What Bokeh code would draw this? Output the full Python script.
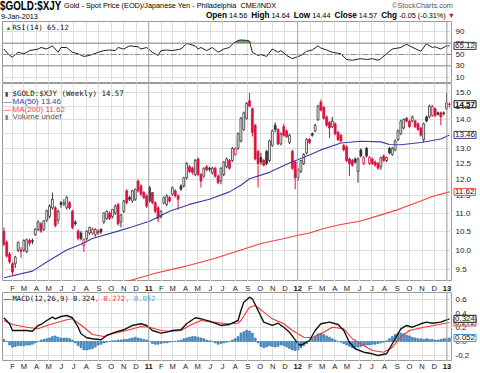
import pandas as pd
from bokeh.plotting import figure
from bokeh.layouts import column, row
from bokeh.models import Range1d, FixedTicker, Span, Label, Div, ColumnDataSource
from bokeh.core.properties import value
from bokeh.embed import file_html
from bokeh.resources import INLINE

# ---------------- data ----------------
first_week = pd.Timestamp("2010-01-11")

opens = [10.50, 10.20, 9.90, 9.65, 9.65, 10.00, 10.00, 10.00, 9.96, 10.25,
         10.25, 10.40, 10.55, 10.70, 10.55, 10.80, 10.90, 11.15, 11.15, 10.80,
         11.30, 11.25, 11.15, 11.30, 11.05, 10.75, 10.50, 10.45, 10.12, 10.30,
         10.45, 10.45, 10.40, 10.50, 10.55, 10.75, 10.85, 11.00, 10.90, 11.00,
         11.25, 10.75, 11.05, 11.65, 11.45, 11.35, 11.40, 11.95, 11.80, 11.60,
         11.50, 11.75, 11.60, 11.30, 11.15, 10.90, 11.30, 11.25, 11.45, 11.55,
         11.65, 11.50, 11.80, 11.80, 12.05, 12.40, 12.35, 12.15, 12.65, 12.15,
         12.10, 12.40, 12.35, 12.20, 12.35, 12.10, 11.95, 12.15, 12.40, 12.60,
         12.60, 12.80, 13.00, 13.25, 13.65, 14.05, 14.70, 14.40, 13.80, 12.90,
         12.70, 12.60, 12.90, 12.60, 13.10, 13.80, 13.65, 13.15, 13.75, 13.60,
         13.20, 12.90, 12.55, 12.05, 12.25, 12.50, 12.85, 13.30, 13.50, 13.60,
         14.00, 14.65, 14.45, 14.10, 13.90, 13.75, 13.85, 13.55, 13.45, 13.10,
         13.05, 12.65, 12.60, 12.65, 12.25, 12.95, 12.50, 13.00, 12.50, 12.65,
         12.55, 12.50, 12.40, 12.75, 12.60, 13.00, 12.80, 12.95, 13.30, 13.50,
         13.70, 14.05, 13.95, 13.95, 13.95, 13.85, 13.70, 13.30, 14.10, 14.10,
         14.15, 14.40, 14.25, 14.25, 14.25, 14.40, 14.56]
highs = [10.60, 10.25, 9.95, 9.70, 9.85, 10.22, 10.08, 10.28, 10.30, 10.30,
         10.30, 10.58, 10.80, 10.75, 10.80, 11.10, 11.25, 11.60, 11.20, 11.10,
         11.35, 11.40, 11.50, 11.35, 11.10, 10.80, 10.55, 10.50, 10.30, 10.52,
         10.62, 10.60, 10.58, 10.55, 10.58, 11.02, 11.08, 11.05, 11.12, 11.25,
         11.30, 10.98, 11.38, 11.70, 11.50, 11.68, 11.72, 12.00, 11.85, 11.65,
         11.55, 11.80, 11.62, 11.35, 11.20, 11.08, 11.48, 11.55, 11.50, 11.78,
         11.70, 11.55, 11.85, 12.08, 12.55, 12.45, 12.40, 12.65, 12.70, 12.20,
         12.38, 12.45, 12.40, 12.40, 12.40, 12.15, 12.38, 12.58, 12.70, 12.65,
         13.05, 13.05, 13.55, 14.10, 14.30, 14.65, 15.00, 14.45, 13.85, 12.95,
         12.85, 12.65, 12.95, 13.30, 13.65, 13.90, 13.70, 13.55, 13.85, 13.65,
         13.50, 12.95, 12.60, 12.35, 12.62, 12.85, 13.35, 13.35, 13.55, 13.85,
         14.55, 14.75, 14.50, 14.15, 13.95, 14.10, 13.90, 13.60, 13.50, 13.15,
         13.10, 12.70, 12.65, 12.70, 12.70, 13.00, 12.75, 13.05, 12.75, 12.70,
         12.60, 12.55, 12.72, 12.80, 12.72, 13.05, 13.05, 13.30, 13.65, 14.00,
         14.05, 14.10, 14.00, 14.15, 14.00, 13.90, 13.75, 13.90, 14.15, 14.55,
         14.55, 14.45, 14.30, 14.30, 14.30, 15.00, 14.64]
lows = [10.10, 9.80, 9.65, 9.37, 9.55, 9.95, 9.80, 9.95, 9.92, 10.10,
        10.15, 10.38, 10.50, 10.45, 10.50, 10.75, 10.85, 11.10, 10.60, 10.70,
        11.15, 11.20, 11.10, 11.10, 10.55, 10.65, 10.25, 10.25, 9.95, 10.25,
        10.40, 10.40, 10.35, 10.40, 10.42, 10.70, 10.80, 10.80, 10.85, 10.95,
        10.65, 10.60, 11.00, 11.25, 11.35, 11.30, 11.35, 11.60, 11.50, 11.40,
        11.15, 11.30, 11.25, 11.00, 10.75, 10.85, 11.25, 11.20, 11.30, 11.50,
        11.45, 11.10, 11.65, 11.75, 12.00, 12.20, 12.15, 12.10, 12.10, 11.75,
        12.05, 12.25, 12.25, 12.15, 12.05, 11.85, 11.85, 12.10, 12.35, 12.30,
        12.55, 12.75, 12.95, 13.20, 13.60, 14.00, 14.45, 13.40, 12.60, 11.75,
        12.45, 12.40, 12.45, 12.55, 13.05, 13.55, 13.10, 13.10, 13.40, 13.35,
        13.15, 12.30, 11.70, 11.95, 12.20, 12.45, 12.80, 13.15, 13.40, 13.55,
        13.95, 14.30, 14.00, 13.75, 13.35, 13.70, 13.45, 13.25, 13.20, 12.90,
        12.55, 12.10, 12.40, 12.50, 11.90, 12.70, 12.45, 12.70, 12.45, 12.45,
        12.40, 12.30, 12.30, 12.55, 12.55, 12.80, 12.75, 12.90, 13.25, 13.45,
        13.65, 13.90, 13.70, 13.90, 13.70, 13.60, 13.40, 13.20, 13.90, 14.05,
        14.10, 14.10, 14.15, 13.80, 14.15, 14.35, 14.44]
closes = [10.15, 9.85, 9.70, 9.45, 9.82, 10.20, 9.97, 10.25, 10.27, 10.18,
          10.22, 10.55, 10.75, 10.50, 10.78, 11.07, 11.20, 11.40, 10.65, 11.05,
          11.25, 11.30, 11.45, 11.15, 10.60, 10.70, 10.30, 10.30, 10.28, 10.50,
          10.60, 10.55, 10.55, 10.45, 10.48, 11.00, 11.05, 10.85, 11.10, 11.20,
          10.70, 10.95, 11.35, 11.30, 11.40, 11.65, 11.70, 11.65, 11.55, 11.45,
          11.20, 11.35, 11.30, 11.05, 10.85, 11.05, 11.45, 11.50, 11.35, 11.75,
          11.50, 11.40, 11.70, 12.05, 12.50, 12.25, 12.22, 12.60, 12.15, 11.95,
          12.35, 12.30, 12.32, 12.35, 12.10, 11.90, 12.35, 12.55, 12.65, 12.35,
          13.00, 12.98, 13.50, 14.05, 14.25, 14.60, 14.50, 13.55, 12.65, 12.50,
          12.55, 12.45, 12.50, 13.25, 13.60, 13.65, 13.15, 13.50, 13.45, 13.40,
          13.45, 12.35, 12.05, 12.30, 12.60, 12.80, 13.30, 13.20, 13.45, 13.80,
          14.50, 14.35, 14.05, 13.80, 13.70, 13.95, 13.50, 13.30, 13.25, 12.95,
          12.60, 12.50, 12.45, 12.55, 12.65, 12.75, 12.70, 12.75, 12.70, 12.50,
          12.45, 12.35, 12.70, 12.60, 12.70, 12.85, 13.00, 13.25, 13.60, 13.95,
          14.00, 13.95, 13.75, 14.10, 13.75, 13.65, 13.45, 13.85, 13.95, 14.50,
          14.48, 14.15, 14.20, 14.10, 14.22, 14.62, 14.57]

ma50_weeks = [0, 10, 16, 22, 27, 31, 40, 45, 51, 58, 65, 72, 79, 83, 86, 93,
              100, 107, 111, 118, 125, 132, 135, 139, 146, 153, 156]
ma50_vals = [9.31, 9.47, 9.74, 10.00, 10.15, 10.30, 10.50, 10.62, 10.77, 11.05,
             11.25, 11.40, 11.62, 11.82, 12.02, 12.22, 12.52, 12.78, 12.95,
             13.18, 13.24, 13.22, 13.13, 13.12, 13.20, 13.32, 13.46]
ma200_weeks = [40, 42, 53, 63, 74, 83, 90, 97, 103, 107, 112, 118, 125, 132,
               138, 146, 150, 156]
ma200_vals = [9.10, 9.20, 9.42, 9.58, 9.79, 10.00, 10.17, 10.28, 10.39, 10.45,
              10.57, 10.68, 10.78, 10.95, 11.10, 11.35, 11.48, 11.62]

rsi_weeks = [0, 2, 3, 5, 7, 9, 12, 13, 15, 17, 19, 20, 22, 24, 26, 28, 30, 33,
             35, 37, 39, 40, 42, 44, 47, 48, 50, 52, 54, 55, 57, 59, 62, 64, 65,
             67, 68, 69, 71, 73, 75, 77, 79, 80, 82, 83, 85, 86, 87, 89, 90, 92,
             94, 96, 97, 99, 101, 104, 106, 108, 110, 111, 113, 115, 118, 120,
             122, 125, 127, 129, 131, 132, 134, 136, 139, 141, 142, 145, 146,
             148, 150, 151, 153, 155, 156]
rsi_vals = [59.6, 48.3, 45.4, 53.9, 51.2, 56.8, 59.6, 62.3, 59.6, 65.2, 53.9,
            62.3, 62.3, 53.9, 51.2, 46.6, 48.3, 53.9, 56.8, 57.9, 56.8, 62.3,
            59.6, 65.2, 63.5, 59.6, 62.3, 53.9, 48.3, 56.8, 57.9, 56.8, 59.6,
            69.1, 68.1, 65.2, 59.6, 62.3, 56.8, 62.3, 53.9, 59.6, 62.3, 68.1,
            74.8, 75.5, 74.8, 73.6, 53.9, 48.3, 50.0, 46.6, 59.6, 53.9, 56.8,
            48.3, 42.7, 48.3, 55.6, 57.9, 65.2, 61.3, 57.9, 53.9, 51.2, 41.1,
            39.9, 42.7, 41.1, 42.7, 39.9, 42.7, 51.2, 59.6, 62.3, 68.1, 65.2,
            57.9, 55.6, 69.1, 62.3, 63.5, 59.6, 65.2, 65.12]

macd_weeks = [0, 2, 3, 6, 8, 10, 12, 13, 15, 17, 18, 20, 22, 24, 26, 27, 29, 31,
              34, 36, 39, 42, 45, 48, 50, 52, 55, 57, 59, 62, 64, 67, 69, 72,
              76, 79, 82, 83, 84, 86, 87, 89, 91, 94, 96, 98, 100, 103, 104,
              107, 109, 111, 114, 117, 119, 121, 123, 126, 129, 131, 134, 135,
              137, 139, 141, 143, 146, 148, 150, 153, 155, 156]
macd_vals = [0.339, 0.253, 0.157, 0.157, 0.157, 0.147, 0.229, 0.243, 0.300,
             0.347, 0.324, 0.357, 0.371, 0.339, 0.204, 0.110, 0.053, 0.039,
             0.024, 0.086, 0.133, 0.167, 0.229, 0.253, 0.229, 0.157, 0.119,
             0.133, 0.157, 0.167, 0.253, 0.339, 0.324, 0.290, 0.229, 0.243,
             0.300, 0.443, 0.561, 0.633, 0.610, 0.443, 0.276, 0.229, 0.261,
             0.204, 0.133, -0.033, -0.057, 0.014, 0.157, 0.253, 0.276, 0.243,
             0.157, -0.010, -0.104, -0.153, -0.176, -0.200, -0.176, -0.104,
             0.039, 0.181, 0.229, 0.204, 0.253, 0.276, 0.261, 0.276, 0.310,
             0.324]
signal_weeks = [0, 3, 8, 12, 15, 19, 22, 24, 28, 31, 35, 38, 43, 48, 51, 55,
                58, 62, 65, 69, 73, 78, 82, 83, 86, 88, 91, 94, 98, 101, 105,
                108, 112, 115, 119, 122, 126, 129, 133, 136, 139, 142, 147,
                152, 156]
signal_vals = [0.300, 0.243, 0.204, 0.181, 0.229, 0.276, 0.310, 0.324, 0.204,
               0.100, 0.071, 0.110, 0.157, 0.214, 0.204, 0.157, 0.143, 0.157,
               0.229, 0.300, 0.276, 0.253, 0.261, 0.300, 0.490, 0.514, 0.419,
               0.324, 0.253, 0.157, 0.061, 0.053, 0.133, 0.204, 0.181, 0.039,
               -0.057, -0.129, -0.153, -0.081, 0.061, 0.157, 0.204, 0.239, 0.272]
macd_hist = [0.03, 0.00, -0.05, -0.08, -0.07, -0.06, -0.06, -0.06, -0.05, -0.05,
             -0.04, -0.02, 0.00, 0.02, 0.03, 0.04, 0.05, 0.07, 0.08, 0.06,
             0.05, 0.05, 0.05, 0.04, 0.02, -0.02, -0.06, -0.09, -0.12, -0.12,
             -0.11, -0.10, -0.08, -0.05, -0.04, -0.02, -0.01, 0.00, 0.01, 0.01,
             0.02, 0.02, 0.03, 0.03, 0.04, 0.05, 0.06, 0.05, 0.04, 0.03,
             0.02, 0.00, -0.03, -0.04, -0.04, -0.03, -0.02, -0.02, -0.01, 0.00,
             0.00, 0.01, 0.02, 0.04, 0.05, 0.06, 0.07, 0.07, 0.06, 0.05,
             0.04, 0.02, 0.01, 0.00, -0.02, -0.04, -0.03, -0.02, -0.01, 0.00,
             0.02, 0.04, 0.07, 0.12, 0.14, 0.16, 0.15, 0.12, 0.05, -0.02,
             -0.07, -0.09, -0.08, -0.06, -0.07, -0.08, -0.07, -0.05, -0.06, -0.08,
             -0.10, -0.12, -0.13, -0.12, -0.09, -0.06, -0.03, 0.00, 0.04, 0.08,
             0.11, 0.12, 0.10, 0.08, 0.06, 0.04, 0.02, 0.00, -0.01, -0.03,
             -0.05, -0.07, -0.09, -0.09, -0.08, -0.07, -0.06, -0.05, -0.05, -0.04,
             -0.04, -0.03, -0.02, -0.01, 0.01, 0.04, 0.07, 0.10, 0.12, 0.12,
             0.11, 0.09, 0.08, 0.06, 0.05, 0.04, 0.04, 0.03, 0.04, 0.03,
             0.03, 0.02, 0.02, 0.03, 0.04, 0.04, 0.05]

month_labels = ["F", "M", "A", "M", "J", "J", "A", "S", "O", "N", "D", "11",
                "F", "M", "A", "M", "J", "J", "A", "S", "O", "N", "D", "12",
                "F", "M", "A", "M", "J", "J", "A", "S", "O", "N", "D", "13"]
price_ticks = [9.5, 10.0, 10.5, 11.0, 11.5, 12.0, 12.5, 13.0, 13.5, 14.0, 14.5, 15.0]
rsi_ticks = [10, 30, 50, 70, 90]
macd_ticks = [-0.2, 0.0, 0.2, 0.4, 0.6]

# ---------------- helpers ----------------
DAY = 86400000.0


def ms(ts):
    return ts.value / 1e6


def wk(i):
    return ms(first_week + pd.Timedelta(days=7 * i))


month_ticks = [ms(d) for d in pd.date_range("2010-02-01", periods=len(month_labels), freq="MS")]
xr = Range1d(ms(pd.Timestamp("2010-01-07 15:00")), ms(pd.Timestamp("2013-01-14 14:00")))

LEFT = 2
FW = 450
RIGHT = 28
FONT = "Liberation Sans"
MONO = "DejaVu Sans Mono"
GRID = "#dedede"


def panel(h, yr, ytype, yticks):
    p = figure(width=LEFT + FW, height=h, x_range=xr, y_range=yr, x_axis_type="datetime",
               y_axis_type=ytype, output_backend="svg", toolbar_location=None,
               min_border_left=LEFT, min_border_right=0, min_border_top=0, min_border_bottom=0)
    p.outline_line_color = "#9a9a9a"
    p.background_fill_color = "white"
    p.border_fill_color = "white"
    p.xaxis.visible = False
    p.yaxis.visible = False
    p.xgrid.ticker = FixedTicker(ticks=month_ticks)
    p.xgrid.grid_line_color = GRID
    p.ygrid.ticker = FixedTicker(ticks=yticks)
    p.ygrid.grid_line_color = GRID
    for t, lab in zip(month_ticks, month_labels):
        if lab.isdigit():
            p.add_layout(Span(location=t, dimension="height", line_color="#a8a8a8", line_width=1))
    return p


def side(h, yr, ytype, yticks, labels):
    s = figure(width=RIGHT, height=h, x_range=Range1d(0, RIGHT), y_range=yr, y_axis_type=ytype,
               x_axis_location=None, y_axis_location=None, output_backend="svg",
               toolbar_location=None, min_border_left=0, min_border_right=0,
               min_border_top=0, min_border_bottom=0)
    s.outline_line_color = None
    s.background_fill_color = "white"
    s.border_fill_color = "white"
    s.xgrid.visible = False
    s.ygrid.visible = False
    s.text(x=[3] * len(yticks), y=yticks, text=labels, text_font=value(FONT),
           text_font_size="8px", text_baseline="middle", text_align="left",
           text_color="#222222")
    return s


def tag(s, yv, text, color, bold=False):
    s.add_layout(Label(x=1.5, y=yv, x_units="data", y_units="data", text=text,
                       text_font=FONT, text_font_size="8px",
                       text_font_style="bold" if bold else "normal",
                       text_color="#111111", text_baseline="middle", text_align="left",
                       border_line_color=color, border_line_width=1,
                       background_fill_color="white", padding=1))


def legend(p, x, y, text, color, font=MONO, size="7.2px"):
    p.add_layout(Label(x=x, y=y, x_units="screen", y_units="screen", text=text,
                       text_font=font, text_font_size=size, text_color=color,
                       text_baseline="middle", text_align="left"))


def month_strip(h, ylev):
    s = figure(width=LEFT + FW, height=h, x_range=xr, y_range=Range1d(0, 1),
               x_axis_location=None, y_axis_location=None, output_backend="svg",
               toolbar_location=None, min_border_left=LEFT, min_border_right=0,
               min_border_top=0, min_border_bottom=0)
    s.outline_line_color = None
    s.background_fill_color = "white"
    s.border_fill_color = "white"
    s.xgrid.visible = False
    s.ygrid.visible = False
    m_x = [t for t, lab in zip(month_ticks, month_labels) if not lab.isdigit()]
    m_l = [lab for lab in month_labels if not lab.isdigit()]
    y_x = [t for t, lab in zip(month_ticks, month_labels) if lab.isdigit()]
    y_l = [lab for lab in month_labels if lab.isdigit()]
    s.text(x=m_x, y=[ylev] * len(m_x), text=m_l, text_font=value(FONT), text_font_size="7.6px",
           text_align="center", text_baseline="middle", text_color="#222222")
    s.text(x=y_x, y=[ylev] * len(y_x), text=y_l, text_font=value(FONT), text_font_size="7.6px",
           text_font_style="bold", text_align="center", text_baseline="middle",
           text_color="#111111")
    return s


# ---------------- header ----------------
header_html = (
    "<div style=\"position:relative;width:480px;height:21px;overflow:hidden;"
    "font-family:'Liberation Sans',Arial,sans-serif;color:#000;\">"
    "<span style=\"position:absolute;left:0px;top:0px;font-size:12px;line-height:12px;"
    "font-weight:bold;transform:scaleX(0.82);transform-origin:0 0;white-space:nowrap;\">"
    "$GOLD:$XJY</span>"
    "<span style=\"position:absolute;left:64px;top:1px;font-size:7.3px;white-space:nowrap;\">"
    "Gold - Spot Price (EOD)/Japanese Yen - Philadelphia&nbsp;&nbsp;CME/INDX</span>"
    "<span style=\"position:absolute;left:392px;top:1px;font-size:7.3px;color:#555;"
    "white-space:nowrap;\">&copy;StockCharts.com</span>"
    "<span style=\"position:absolute;left:1px;top:12px;font-size:7.3px;line-height:9px;"
    "white-space:nowrap;\">9-Jan-2013</span>"
    "<span style=\"position:absolute;left:206px;top:10px;font-size:7.3px;white-space:nowrap;\">"
    "<b style=\"font-size:8.2px\">Open</b> 14.56 &nbsp;<b style=\"font-size:8.2px\">High</b> 14.64 "
    "&nbsp;<b style=\"font-size:8.2px\">Low</b> 14.44 &nbsp;<b style=\"font-size:8.2px\">Close</b> 14.57 "
    "&nbsp;<b style=\"font-size:8.2px\">Chg</b> -0.05 (-0.31%) "
    "<span style=\"color:#d0103a\">&#9660;</span></span>"
    "</div>")
header = Div(text=header_html, width=LEFT + FW + RIGHT, height=21, margin=(0, 0, 0, 0),
             disable_math=True)

# ---------------- RSI panel ----------------
H_RSI = 62
rsi_y = Range1d(-1, 108)
p_rsi = panel(H_RSI, rsi_y, "linear", rsi_ticks)
for lvl in (30, 70):
    p_rsi.add_layout(Span(location=lvl, dimension="width", line_color="#8a8a8a", line_width=1))
p_rsi.add_layout(Span(location=50, dimension="width", line_color="#8a8a8a", line_width=1,
                      line_dash="6 2 2 2"))
rsi_x = [wk(i) for i in rsi_weeks]
p_rsi.varea(x=rsi_x, y1=70, y2=[max(v, 70) for v in rsi_vals], fill_color="#4f9a4f",
            fill_alpha=0.9)
p_rsi.line(rsi_x, rsi_vals, line_color="#222222", line_width=1)
legend(p_rsi, 3, H_RSI - 6, "\u25B2", "#3b7d3b", FONT, "6px")
legend(p_rsi, 10, H_RSI - 6, "RSI(14) 65.12", "#111111")
s_rsi = side(H_RSI, rsi_y, "linear", rsi_ticks, [str(t) for t in rsi_ticks])
tag(s_rsi, rsi_vals[-1], "65.12", "#333333")

# ---------------- price panel ----------------
H_MAIN = 198
main_y = Range1d(9.22, 15.37)
p_main = panel(H_MAIN, main_y, "log", price_ticks)
prev = [opens[0]] + closes[:-1]
colors = ["#e0103e" if c < pc else "#333333" for c, pc in zip(closes, prev)]
fills = ["white" if c > o else col for c, o, col in zip(closes, opens, colors)]
src = ColumnDataSource(dict(
    x=[wk(i) for i in range(len(closes))],
    high=highs, low=lows,
    top=[max(o, c) for o, c in zip(opens, closes)],
    bottom=[min(o, c) for o, c in zip(opens, closes)],
    color=colors, fill=fills))
p_main.segment(x0="x", y0="low", x1="x", y1="high", line_color="color", line_width=1, source=src)
p_main.vbar(x="x", width=4.6 * DAY, top="top", bottom="bottom", fill_color="fill",
            line_color="color", line_width=0.8, source=src)
p_main.line([wk(i) for i in ma50_weeks], ma50_vals, line_color="#3b3bb0", line_width=1.1)
p_main.line([wk(i) for i in ma200_weeks], ma200_vals, line_color="#ff3b3b", line_width=1.1)

legend(p_main, 10, H_MAIN - 10, "$GOLD:$XJY (Weekly) 14.57", "#111111", MONO, "7.4px")
legend(p_main, 2, H_MAIN - 10, "\u25AE", "#444444", FONT, "6px")
legend(p_main, 1, H_MAIN - 17.7, "\u2014", "#3b3bb0", FONT, "8px")
legend(p_main, 10, H_MAIN - 17.7, "MA(50) 13.46", "#3b3bb0", FONT, "8px")
legend(p_main, 1, H_MAIN - 25.5, "\u2014", "#ff3b3b", FONT, "8px")
legend(p_main, 10, H_MAIN - 25.5, "MA(200) 11.62", "#ff3b3b", FONT, "8px")
legend(p_main, 2, H_MAIN - 33, "\u25AE", "#777777", FONT, "6px")
legend(p_main, 10, H_MAIN - 33, "Volume undef", "#555555", FONT, "8px")
s_main = side(H_MAIN, main_y, "log", price_ticks, ["%.1f" % t for t in price_ticks])
tag(s_main, ma50_vals[-1], "13.46", "#3b3bb0")
tag(s_main, ma200_vals[-1], "11.62", "#ff3b3b")
tag(s_main, closes[-1], "14.57", "#111111", True)

# ---------------- MACD panel ----------------
H_MACD = 69
macd_y = Range1d(-0.286, 0.70)
p_macd = panel(H_MACD, macd_y, "linear", macd_ticks)
p_macd.vbar(x=[wk(i) for i in range(len(macd_hist))], width=4.6 * DAY, top=macd_hist, bottom=0,
            fill_color="#4a94cf", line_color="#2b6c9f", line_width=0.6)
p_macd.line([wk(i) for i in signal_weeks], signal_vals, line_color="#ff3030", line_width=1.1)
p_macd.line([wk(i) for i in macd_weeks], macd_vals, line_color="#111111", line_width=1.4)

CW = 0.602 * 7.2
t1 = "MACD(12,26,9) 0.324"
t2 = ", 0.272"
t3 = ", 0.052"
legend(p_macd, 1, H_MACD - 5.5, "\u2014", "#111111", FONT, "8px")
legend(p_macd, 10, H_MACD - 5.5, t1, "#111111")
legend(p_macd, 10 + CW * len(t1), H_MACD - 5.5, t2, "#ff3030")
legend(p_macd, 10 + CW * (len(t1) + len(t2)), H_MACD - 5.5, t3, "#5aa6e0")
s_macd = side(H_MACD, macd_y, "linear", macd_ticks, ["%.1f" % t for t in macd_ticks])
tag(s_macd, signal_vals[-1], "0.272", "#ff3030")
tag(s_macd, macd_vals[-1], "0.324", "#111111")
tag(s_macd, macd_hist[-1], "0.052", "#4a94cf")

layout = column(header,
                row(p_rsi, s_rsi, spacing=0),
                row(p_main, s_main, spacing=0),
                month_strip(11, 0.5),
                row(p_macd, s_macd, spacing=0),
                month_strip(12, 0.6),
                spacing=0)
open("out.html", "w").write(file_html(layout, INLINE))
